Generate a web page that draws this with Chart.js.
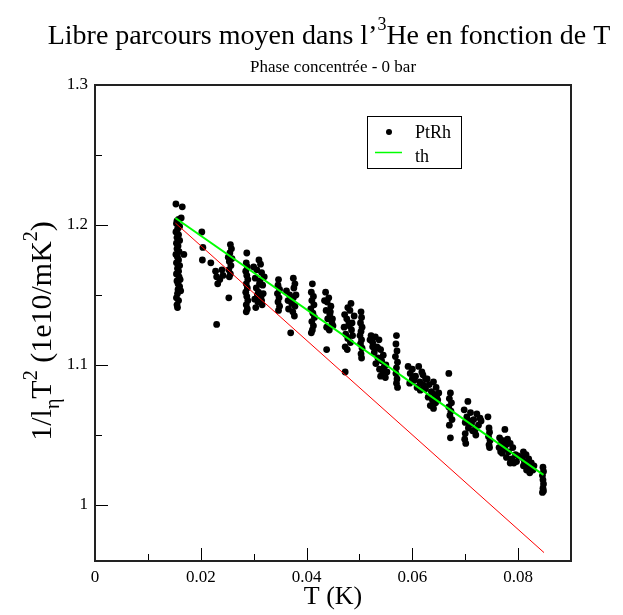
<!DOCTYPE html>
<html>
<head>
<meta charset="utf-8">
<script src="https://cdn.jsdelivr.net/npm/chart.js@4.4.1/dist/chart.umd.min.js"></script>
<style>
  html, body { margin: 0; padding: 0; background: #fff; }
  #wrap { width: 623px; height: 615px; }
</style>
</head>
<body>
<div id="wrap"><canvas id="mfpChart" width="623" height="615"></canvas></div>
<script>
const ptrhT = [
  0.0153,0.0165,0.0155,0.0158,0.0154,0.0160,0.0156,0.0153,0.0158,0.0155,0.0160,0.0154,0.0157,0.0155,0.0159,0.0153,0.0168,0.0156,0.0158,0.0154,0.0160,0.0156,0.0158,0.0154,0.0159,0.0161,0.0155,0.0157,0.0160,0.0162,0.0156,0.0154,0.0158,0.0155,0.0156,0.0163,0.0157,
  0.0202,0.0204,0.0203,0.0219,0.0230,0.0253,
  0.0228,0.0240,0.0236,0.0232,0.0242,0.0230,
  0.0256,0.0258,0.0255,0.0252,0.0254,0.0257,0.0253,0.0256,0.0254,0.0259,
  0.0287,0.0286,0.0288,0.0285,0.0287,0.0289,0.0286,0.0288,0.0285,0.0287,0.0289,0.0286,0.0288,0.0286,
  0.0310,0.0313,0.0306,0.0315,0.0303,0.0312,0.0317,0.0305,0.0309,0.0314,0.0302,0.0308,0.0316,0.0304,0.0311,0.0318,
  0.0347,0.0346,0.0349,0.0345,0.0348,0.0346,0.0349,0.0347,
  0.0362,0.0368,0.0375,0.0365,0.0372,0.0378,0.0370,0.0375,0.0378,0.0376,0.0374,0.0377,
  0.0411,0.0409,0.0413,0.0410,0.0414,0.0408,0.0412,0.0415,0.0410,0.0413,0.0411,0.0409,
  0.0436,0.0442,0.0439,0.0446,0.0437,0.0444,0.0440,0.0448,0.0438,0.0443,0.0438,0.0445,0.0449,
  0.0484,0.0478,0.0482,0.0472,0.0476,0.0480,0.0471,0.0485,0.0474,0.0478,0.0483,0.0473,0.0477,0.0473,0.0487,0.0481,
  0.0503,0.0504,0.0502,0.0505,0.0503,0.0501,0.0504,0.0502,0.0505,0.0503,0.0504,
  0.0522,0.0530,0.0537,0.0525,0.0533,0.0540,0.0528,0.0545,0.0535,0.0542,0.0531,0.0547,0.0538,0.0544,0.0540,0.0549,0.0525,
  0.0570,0.0569,0.0571,0.0568,0.0572,0.0570,0.0569,0.0571,0.0570,0.0572,
  0.0592,0.0600,0.0612,0.0596,0.0606,0.0618,0.0603,0.0614,0.0595,0.0620,0.0609,0.0625,
  0.0620,0.0628,0.0640,0.0632,0.0645,0.0625,0.0636,0.0642,0.0630,0.0638,0.0644,0.0634,0.0640,0.0646,
  0.0669,0.0672,0.0670,0.0674,0.0669,0.0673,0.0671,0.0675,0.0670,0.0672,
  0.0705,0.0698,0.0710,0.0722,0.0703,0.0716,0.0728,0.0700,0.0712,0.0725,0.0706,0.0719,0.0700,0.0714,0.0699,0.0701,
  0.0743,0.0745,0.0746,0.0744,0.0747,0.0745,0.0746,
  0.0775,0.0765,0.0772,0.0780,0.0768,0.0777,0.0785,0.0764,0.0774,0.0790,0.0770,0.0782,0.0795,0.0778,0.0788,0.0797,0.0767,0.0792,
  0.0810,0.0815,0.0808,0.0820,0.0812,0.0818,0.0823,0.0810,0.0816,0.0822,0.0825,
  0.0847,0.0848,0.0846,0.0847,0.0848,0.0847,0.0846,0.0848,
  0.0300,0.0320,0.0307,0.0315,0.0380,0.0366,0.0450,0.0434,0.0490,0.0486,0.0550,0.0552,0.0535,0.0520,0.0600,0.0615,0.0650,0.0648,0.0730,0.0720,0.0708,0.0800,0.0785,0.0828,0.0830
];
const ptrhL = [
  1.215,1.213,1.203,1.204,1.201,1.199,1.197,1.195,1.193,1.191,1.189,1.187,1.185,1.183,1.181,1.179,1.179,1.177,1.175,1.173,1.171,1.169,1.167,1.165,1.163,1.161,1.160,1.158,1.156,1.153,1.151,1.148,1.146,1.143,1.141,1.205,1.154,
  1.195,1.184,1.175,1.173,1.129,1.148,
  1.167,1.168,1.161,1.158,1.164,1.163,
  1.186,1.183,1.180,1.177,1.174,1.171,1.168,1.165,1.163,1.176,
  1.180,1.173,1.170,1.167,1.164,1.161,1.158,1.155,1.152,1.149,1.146,1.143,1.140,1.138,
  1.175,1.172,1.168,1.166,1.162,1.160,1.157,1.155,1.152,1.149,1.147,1.145,1.143,1.141,1.158,1.151,
  1.161,1.157,1.154,1.151,1.148,1.145,1.142,1.139,
  1.153,1.150,1.148,1.146,1.144,1.142,1.123,1.162,1.158,1.155,1.138,1.135,
  1.158,1.152,1.149,1.146,1.143,1.140,1.137,1.134,1.131,1.128,1.125,1.123,
  1.152,1.148,1.145,1.142,1.139,1.136,1.133,1.130,1.127,1.125,1.111,1.138,1.133,
  1.144,1.141,1.139,1.136,1.133,1.130,1.127,1.125,1.122,1.119,1.116,1.113,1.111,1.095,1.121,1.128,
  1.138,1.134,1.130,1.127,1.124,1.121,1.118,1.115,1.112,1.108,1.105,
  1.121,1.120,1.118,1.116,1.113,1.111,1.109,1.107,1.105,1.103,1.101,1.099,1.097,1.095,1.092,1.091,1.113,
  1.121,1.115,1.110,1.106,1.102,1.098,1.094,1.090,1.087,1.084,
  1.099,1.097,1.099,1.094,1.092,1.095,1.089,1.088,1.087,1.086,1.084,1.090,
  1.093,1.090,1.088,1.086,1.084,1.083,1.081,1.079,1.077,1.075,1.073,1.071,1.069,1.078,
  1.094,1.080,1.076,1.073,1.070,1.067,1.064,1.061,1.057,1.048,
  1.074,1.068,1.066,1.065,1.063,1.061,1.062,1.059,1.058,1.057,1.055,1.054,1.051,1.053,1.047,1.044,
  1.063,1.055,1.052,1.049,1.046,1.043,1.041,
  1.054,1.048,1.046,1.047,1.044,1.043,1.044,1.041,1.040,1.041,1.037,1.038,1.036,1.034,1.033,1.031,1.038,1.030,
  1.038,1.036,1.034,1.033,1.031,1.029,1.027,1.028,1.025,1.023,1.030,
  1.027,1.024,1.021,1.018,1.015,1.012,1.009,1.010,
  1.170,1.163,1.150,1.146,1.150,1.140,1.128,1.146,1.135,1.130,1.100,1.095,1.112,1.118,1.090,1.082,1.080,1.075,1.060,1.050,1.060,1.035,1.030,1.025,1.028
];

// theory curves (end points)
const thT = [0.0152, 0.0848];
const thL = [1.205, 1.0215];
const redT = [0.0152, 0.0849];
const redL = [1.2014, 0.966];

// axis ticks
const xTickValues = [0, 0.01, 0.02, 0.03, 0.04, 0.05, 0.06, 0.07, 0.08, 0.09];
const xTickLabels = ['0', '', '0.02', '', '0.04', '', '0.06', '', '0.08', ''];
const yTickValues = [1, 1.05, 1.1, 1.15, 1.2, 1.25, 1.3];
const yTickLabels = ['1', '', '1.1', '', '1.2', '', '1.3'];

const SERIF = '"Liberation Serif", "Times New Roman", serif';

function zip(xs, ys) {
  return xs.map((v, i) => ({ x: v, y: ys[i] }));
}

// draw a run of text pieces, some of them raised or lowered
function drawRich(ctx, parts, x, y) {
  let w = 0;
  parts.forEach(p => {
    ctx.font = p[1] + 'px ' + SERIF;
    w += ctx.measureText(p[0]).width;
  });
  let cx = x - w / 2;
  parts.forEach(p => {
    ctx.font = p[1] + 'px ' + SERIF;
    ctx.fillText(p[0], cx, y + p[2]);
    cx += ctx.measureText(p[0]).width;
  });
}

const gracePlugin = {
  id: 'graceLook',
  beforeDraw(chart) {
    const ctx = chart.ctx;
    ctx.save();
    ctx.fillStyle = '#fff';
    ctx.fillRect(0, 0, chart.width, chart.height);
    ctx.restore();
  },
  afterDatasetsDraw(chart) {
    const { ctx, chartArea: a, scales } = chart;
    ctx.save();
    ctx.strokeStyle = '#000';
    ctx.lineWidth = 1;
    ctx.beginPath();
    xTickValues.forEach((v, i) => {
      const px = Math.round(scales.x.getPixelForValue(v)) + 0.5;
      const len = xTickLabels[i] !== '' ? 13 : 7;
      ctx.moveTo(px, a.bottom);
      ctx.lineTo(px, a.bottom - len);
    });
    yTickValues.forEach((v, i) => {
      const py = Math.round(scales.y.getPixelForValue(v)) + 0.5;
      const len = yTickLabels[i] !== '' ? 13 : 7;
      ctx.moveTo(a.left, py);
      ctx.lineTo(a.left + len, py);
    });
    ctx.stroke();

    // frame
    ctx.strokeStyle = '#222';
    ctx.lineWidth = 2;
    ctx.strokeRect(a.left, a.top, a.right - a.left, a.bottom - a.top);

    // legend box
    const ds = chart.data.datasets;
    const lx = 367, ly = 116, lw = 94, lh = 52;
    ctx.fillStyle = '#fff';
    ctx.fillRect(lx, ly, lw, lh);
    ctx.strokeStyle = '#000';
    ctx.lineWidth = 1;
    ctx.strokeRect(lx + 0.5, ly + 0.5, lw, lh);
    ctx.fillStyle = '#000';
    ctx.beginPath();
    ctx.arc(389, 132, 3, 0, Math.PI * 2);
    ctx.fill();
    ctx.strokeStyle = ds[1].borderColor;
    ctx.lineWidth = 1.5;
    ctx.beginPath();
    ctx.moveTo(375, 152.5);
    ctx.lineTo(402, 152.5);
    ctx.stroke();
    ctx.fillStyle = '#000';
    ctx.font = '18px ' + SERIF;
    ctx.textBaseline = 'alphabetic';
    ctx.fillText(ds[0].label, 415, 138);
    ctx.fillText(ds[1].label, 415, 162);
    ctx.restore();
  },
  afterDraw(chart) {
    const ctx = chart.ctx;
    ctx.save();
    ctx.fillStyle = '#000';
    ctx.textBaseline = 'alphabetic';
    // main title with superscript 3
    drawRich(ctx, [
      ['Libre parcours moyen dans l\u2019', 28, 0],
      ['3', 18, -14],
      ['He en fonction de T', 28, 0]
    ], 329, 44);
    // subtitle
    drawRich(ctx, [['Phase concentr\u00e9e - 0 bar', 17, 0]], 333, 72);
    // y axis title, rotated
    ctx.translate(51, 331);
    ctx.rotate(-Math.PI / 2);
    drawRich(ctx, [
      ['1/l', 30, 0],
      ['\u03b7', 20, 8],
      ['T', 30, 0],
      ['2', 20, -14],
      [' (1e10/mK', 30, 0],
      ['2', 20, -14],
      [')', 30, 0]
    ], 0, 0);
    ctx.restore();
  }
};

new Chart(document.getElementById('mfpChart'), {
  type: 'scatter',
  data: {
    datasets: [
      {
        label: 'PtRh',
        data: zip(ptrhT, ptrhL),
        showLine: false,
        pointRadius: 3.4,
        pointBackgroundColor: '#000',
        pointBorderWidth: 0,
        order: 3
      },
      {
        label: 'th',
        data: zip(thT, thL),
        showLine: true,
        borderColor: '#00ff00',
        borderWidth: 2,
        pointRadius: 0,
        order: 1
      },
      {
        label: 'courbe',
        data: zip(redT, redL),
        showLine: true,
        borderColor: '#ff0000',
        borderWidth: 1,
        pointRadius: 0,
        order: 2
      }
    ]
  },
  options: {
    responsive: false,
    animation: false,
    devicePixelRatio: 1,
    layout: { padding: { top: 85, right: 52, bottom: 0, left: 0 } },
    plugins: {
      legend: { display: false },
      title: { display: false },
      tooltip: { enabled: false }
    },
    scales: {
      x: {
        type: 'linear',
        min: 0,
        max: 0.09,
        afterBuildTicks: s => { s.ticks = xTickValues.map(v => ({ value: v })); },
        afterFit: s => { s.height = 54; },
        grid: { display: false, drawTicks: false },
        border: { display: false },
        ticks: {
          autoSkip: false,
          maxRotation: 0,
          padding: 6,
          color: '#000',
          font: { family: SERIF, size: 17 },
          callback: (v, i) => xTickLabels[i]
        },
        title: {
          display: true,
          text: 'T (K)',
          color: '#000',
          font: { family: SERIF, size: 26 },
          padding: { top: 0, bottom: 2 }
        }
      },
      y: {
        type: 'linear',
        min: 0.96,
        max: 1.3,
        afterBuildTicks: s => { s.ticks = yTickValues.map(v => ({ value: v })); },
        afterFit: s => { s.width = 95; },
        grid: { display: false, drawTicks: false },
        border: { display: false },
        ticks: {
          autoSkip: false,
          padding: 7,
          color: '#000',
          font: { family: SERIF, size: 17 },
          callback: (v, i) => yTickLabels[i]
        }
      }
    }
  },
  plugins: [gracePlugin]
});
</script>
</body>
</html>
